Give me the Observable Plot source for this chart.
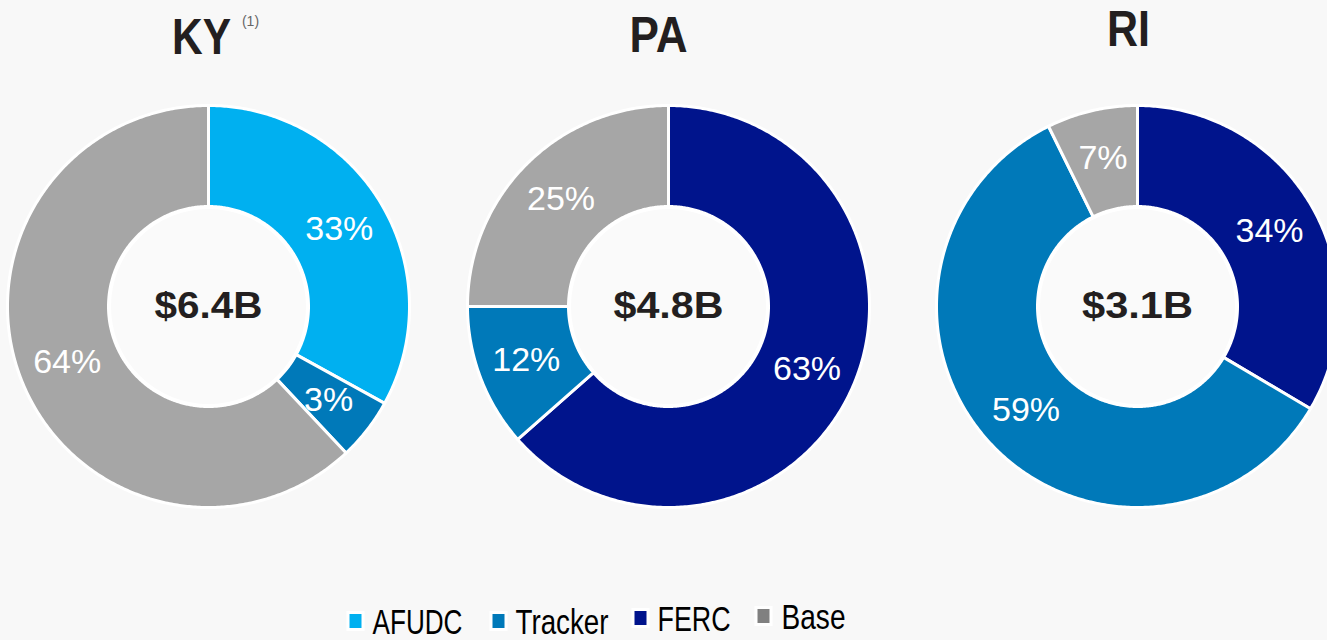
<!DOCTYPE html>
<html><head><meta charset="utf-8">
<script src="https://cdn.jsdelivr.net/npm/d3@7"></script>
<script src="https://cdn.jsdelivr.net/npm/@observablehq/plot@0.6"></script>
<style>
html,body{margin:0;padding:0;background:#f8f8f8;overflow:hidden;}
#chart svg{display:block;}
</style></head><body><div id="chart"></div>
<script>
// ---- data ----
const states = ["KY", "PA", "RI"];
const totals = ["$6.4B", "$4.8B", "$3.1B"];
const categories = ["AFUDC", "Tracker", "FERC", "Base"];
const colors = ["#00b0f0", "#0079b9", "#00148c", "#a6a6a6"];
const legendColors = ["#00b0f0", "#0079b9", "#00148c", "#808080"];
// slices clockwise from 12 o'clock
const kySlices = ["AFUDC", "Tracker", "Base"];
const kyShares = [33, 5, 62];
const kyLabels = ["33%", "3%", "64%"];
const paSlices = ["FERC", "Tracker", "Base"];
const paShares = [63.5, 11.5, 25];
const paLabels = ["63%", "12%", "25%"];
const riSlices = ["FERC", "Tracker", "Base"];
const riShares = [33.5, 59.2, 7.3];
const riLabels = ["34%", "59%", "7%"];

// ---- layout ----
const W = 1327, H = 640;
const centers = [{x: 208, y: 306}, {x: 668, y: 306}, {x: 1137, y: 306}];
const R = 201, R0 = 100, LR = 152;
const groups = [
  {slices: kySlices, shares: kyShares, labels: kyLabels},
  {slices: paSlices, shares: paShares, labels: paLabels},
  {slices: riSlices, shares: riShares, labels: riLabels}
];

const pie = d3.pie().sort(null).value(d => d.share);
const rows = [], pctLabels = [];
groups.forEach((g, gi) => {
  const c = centers[gi];
  const items = g.slices.map((cat, i) => ({cat, share: g.shares[i], label: g.labels[i]}));
  pie(items).forEach(a => {
    const key = states[gi] + "-" + a.data.cat;
    const a0 = a.startAngle, a1 = a.endAngle;
    const n = Math.max(2, Math.ceil((a1 - a0) / 0.01));
    const pts = [];
    for (let k = 0; k <= n; k++) {
      const t = a0 + (a1 - a0) * k / n;
      pts.push({x: c.x + R * Math.sin(t), y: c.y - R * Math.cos(t)});
    }
    for (let k = n; k >= 0; k--) {
      const t = a0 + (a1 - a0) * k / n;
      pts.push({x: c.x + R0 * Math.sin(t), y: c.y - R0 * Math.cos(t)});
    }
    pts.push(pts[0]);
    pts.forEach(p => rows.push({...p, key, cat: a.data.cat}));
    const m = (a0 + a1) / 2;
    pctLabels.push({x: c.x + LR * Math.sin(m), y: c.y - LR * Math.cos(m), text: a.data.label});
  });
});

const titlePos = [{x: 201, y: 53}, {x: 658, y: 51}, {x: 1128, y: 45}];
const titles = states.map((s, i) => ({...titlePos[i], text: s}));
const centerTexts = totals.map((t, i) => ({...centers[i], text: t}));

const legendPos = [
  {sx: 348, sy: 621, tx: 372, ty: 633},
  {sx: 491, sy: 621, tx: 515, ty: 633},
  {sx: 633, sy: 618, tx: 657, ty: 630},
  {sx: 756, sy: 616, tx: 781, ty: 628}
];
const legend = categories.map((c, i) => ({cat: c, color: legendColors[i], ...legendPos[i]}));

const sans = "'Liberation Sans', Arial, Helvetica, sans-serif";

const chart = Plot.plot({
  width: W, height: H, margin: 0,
  x: {domain: [0, W], range: [0, W], axis: null},
  y: {domain: [0, H], range: [0, H], axis: null},
  color: {domain: categories, range: colors},
  style: {background: "transparent", overflow: "hidden"},
  marks: [
    Plot.line(rows, {x: "x", y: "y", z: "key", fill: "cat", stroke: "white", strokeWidth: 3, strokeLinejoin: "round"}),
    Plot.dot(centers, {x: "x", y: "y", r: 99, fill: "#fafafa", stroke: "white", strokeWidth: 3}),
    Plot.text(pctLabels, {x: "x", y: "y", text: "text", fill: "white", fontSize: 34, fontFamily: sans}),
    Plot.text(centerTexts, {x: "x", y: "y", text: "text", fill: "#231f20", fontSize: 37, fontWeight: "bold", fontFamily: sans}),
    Plot.text(titles, {x: "x", y: "y", text: "text", fill: "#231f20", fontSize: 50, fontWeight: "bold", fontFamily: sans, lineAnchor: "bottom"}),
    Plot.text([{x: 250, y: 25, text: "(1)"}], {x: "x", y: "y", text: "text", fill: "#666", fontSize: 14, fontFamily: sans, lineAnchor: "bottom"}),
    ...legend.map(d => Plot.rect([d], {x1: d.sx, x2: d.sx + 15, y1: d.sy - 8.5, y2: d.sy + 8.5, fill: d.color, stroke: "white", strokeWidth: 3})),
    Plot.text(legend, {x: "tx", y: "ty", text: "cat", fill: "#000", fontSize: 35, fontFamily: sans, textAnchor: "start", lineAnchor: "bottom"})
  ]
});

// condense a few texts to the widths of the original's narrow typeface
const textGroups = chart.querySelectorAll('g[aria-label="text"]');
const fit = (g, widths) => g.querySelectorAll("text").forEach((t, i) => {
  if (widths[i]) { t.setAttribute("textLength", widths[i]); t.setAttribute("lengthAdjust", "spacingAndGlyphs"); }
});
fit(textGroups[1], [108, 110, 111]);
fit(textGroups[2], [59, 58, 43]);
fit(textGroups[4], [90, 93, 73, 64]);
document.getElementById("chart").appendChild(chart);
</script>
</body></html>
